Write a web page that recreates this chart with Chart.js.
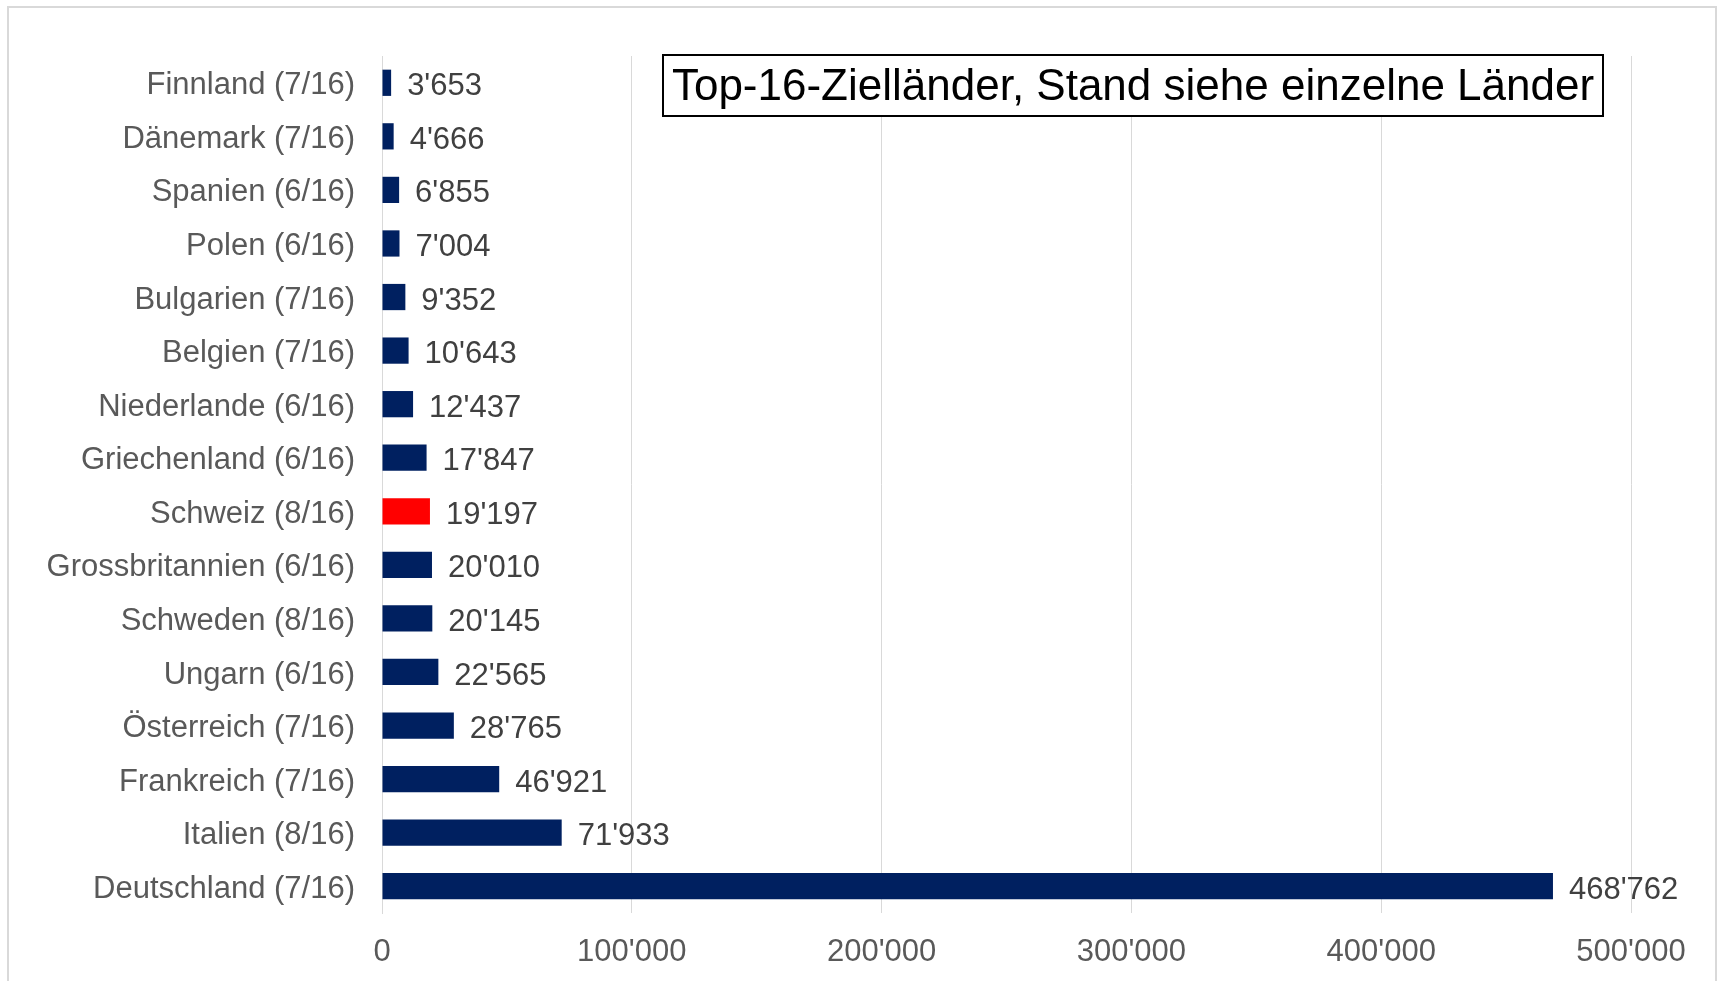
<!DOCTYPE html>
<html>
<head>
<meta charset="utf-8">
<script src="https://cdn.jsdelivr.net/npm/chart.js@4"></script>
<style>
  body { margin: 0; background: #fff; }
  #wrap { position: relative; width: 1721px; height: 981px; overflow: hidden; }
  canvas { position: absolute; left: 0; top: 0; }
</style>
</head>
<body>
<div id="wrap"><canvas id="chart" width="1721" height="981"></canvas></div>
<script>
const countries = ['Finnland (7/16)', 'Dänemark (7/16)', 'Spanien (6/16)', 'Polen (6/16)', 'Bulgarien (7/16)',
  'Belgien (7/16)', 'Niederlande (6/16)', 'Griechenland (6/16)', 'Schweiz (8/16)', 'Grossbritannien (6/16)',
  'Schweden (8/16)', 'Ungarn (6/16)', 'Österreich (7/16)', 'Frankreich (7/16)', 'Italien (8/16)', 'Deutschland (7/16)'];
const asylum = [3653, 4666, 6855, 7004, 9352, 10643, 12437, 17847, 19197, 20010, 20145, 22565, 28765, 46921, 71933, 468762];
const highlight = 'Schweiz (8/16)';
const xTicks = [0, 100000, 200000, 300000, 400000, 500000];
const boxTitle = 'Top-16-Zielländer, Stand siehe einzelne Länder';

const FONT = '"Liberation Sans", Arial, sans-serif';

// Tausendertrennzeichen wie im Original: 100'000
function fmt(n) {
  return String(n).replace(/\B(?=(\d{3})+(?!\d))/g, "'");
}

const barColors = countries.map(c => c === highlight ? '#FF0000' : '#002060');

// Rahmen um das ganze Diagramm
const framePlugin = {
  id: 'frame',
  beforeDraw(chart) {
    const ctx = chart.ctx;
    ctx.save();
    ctx.fillStyle = '#fff';
    ctx.fillRect(0, 0, chart.width, chart.height);
    ctx.strokeStyle = '#d9d9d9';
    ctx.lineWidth = 2;
    ctx.strokeRect(8, 7, 1708, 1000);
    ctx.restore();
  }
};

// Werte rechts neben den Balken
const valueLabels = {
  id: 'valueLabels',
  afterDatasetsDraw(chart) {
    const ctx = chart.ctx;
    const meta = chart.getDatasetMeta(0);
    ctx.save();
    ctx.font = '31px ' + FONT;
    ctx.fillStyle = '#404040';
    ctx.textAlign = 'left';
    ctx.textBaseline = 'middle';
    meta.data.forEach((bar, i) => {
      ctx.fillText(fmt(asylum[i]), bar.x + 16, bar.y + 4);
    });
    ctx.restore();
  }
};

// Kasten mit Titel oben rechts
const titleBox = {
  id: 'titleBox',
  afterDraw(chart) {
    const ctx = chart.ctx;
    const x = 663, y = 55, w = 940, h = 61;
    ctx.save();
    ctx.fillStyle = '#fff';
    ctx.fillRect(x, y, w, h);
    ctx.strokeStyle = '#000';
    ctx.lineWidth = 2;
    ctx.strokeRect(x, y, w, h);
    ctx.font = '44px ' + FONT;
    ctx.fillStyle = '#000';
    ctx.textAlign = 'center';
    ctx.textBaseline = 'middle';
    ctx.fillText(boxTitle, x + w / 2, y + h / 2 + 2);
    ctx.restore();
  }
};

new Chart(document.getElementById('chart'), {
  type: 'bar',
  data: {
    labels: countries,
    datasets: [{
      data: asylum,
      backgroundColor: barColors,
      borderWidth: 0,
      categoryPercentage: 1,
      barPercentage: 0.49
    }]
  },
  options: {
    indexAxis: 'y',
    responsive: false,
    animation: false,
    devicePixelRatio: 1,
    layout: { padding: { top: 56, right: 90, bottom: 0, left: 0 } },
    plugins: {
      legend: { display: false },
      title: { display: false },
      tooltip: { enabled: false }
    },
    scales: {
      x: {
        min: 0,
        max: 500000,
        afterBuildTicks: s => { s.ticks = xTicks.map(v => ({ value: v })); },
        afterFit: s => { s.height = 68; },
        grid: { color: '#d9d9d9', lineWidth: 1, drawTicks: false },
        border: { display: false },
        ticks: {
          color: '#595959',
          font: { family: FONT, size: 31 },
          padding: 21,
          maxRotation: 0,
          callback: v => fmt(v)
        }
      },
      y: {
        afterFit: s => { s.width = 382; },
        grid: { display: false, drawTicks: false },
        border: { display: true, color: '#d9d9d9', width: 1 },
        ticks: {
          color: '#595959',
          font: { family: FONT, size: 31 },
          padding: 27,
          labelOffset: 3,
          autoSkip: false
        }
      }
    }
  },
  plugins: [framePlugin, valueLabels, titleBox]
});
</script>
</body>
</html>
